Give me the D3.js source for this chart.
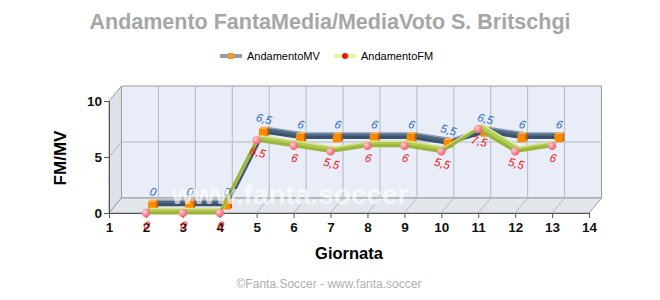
<!DOCTYPE html>
<html>
<head>
<meta charset="utf-8">
<script src="https://cdn.jsdelivr.net/npm/d3@7"></script>
<style>
  body { margin: 0; background: #fff; }
  svg text { font-family: "Liberation Sans", Arial, sans-serif; }
</style>
</head>
<body>
<div id="chart"></div>
<script>
const giornate = [2, 3, 4, 5, 6, 7, 8, 9, 10, 11, 12, 13];
const mediaVoto = [0, 0, 0, 6.5, 6, 6, 6, 6, 5.5, 6.5, 6, 6];
const fantaMedia = [0, 0, 0, 6.5, 6, 5.5, 6, 6, 5.5, 7.5, 5.5, 6];
const xTicks = [1, 2, 3, 4, 5, 6, 7, 8, 9, 10, 11, 12, 13, 14];
const yTicks = [0, 5, 10];

const W = 660, H = 300;
// depth offset of the 3d box
const DX = 12.5, DY = -15;

const svg = d3.select("#chart").append("svg")
    .attr("width", W)
    .attr("height", H);

const x = d3.scaleLinear().domain([1, 14]).range([109, 589]);
const y = d3.scaleLinear().domain([0, 10]).range([213, 101]);

// projected point at depth z (0 = front, 1 = back)
const px = (v, z) => x(v) + DX * z;
const py = (v, z) => y(v) + DY * z;

const defs = svg.append("defs");
const grad = defs.append("radialGradient").attr("id", "dot")
    .attr("cx", "35%").attr("cy", "35%").attr("r", "65%");
grad.append("stop").attr("offset", "0%").attr("stop-color", "#ffd0d0");
grad.append("stop").attr("offset", "100%").attr("stop-color", "#f06070");

// title
svg.append("text")
    .attr("x", 330).attr("y", 29)
    .attr("text-anchor", "middle")
    .style("font-size", "21.5px")
    .style("font-weight", "bold")
    .style("fill", "#a6a6a6")
    .text("Andamento FantaMedia/MediaVoto S. Britschgi");

// legend
const leg = svg.append("g");
leg.append("line").attr("x1", 220).attr("x2", 242).attr("y1", 56).attr("y2", 56)
    .attr("stroke", "#8e9eb1").attr("stroke-width", 4);
leg.append("rect").attr("x", 228).attr("y", 53).attr("width", 6).attr("height", 6)
    .attr("fill", "#ff9922");
leg.append("text").attr("x", 247).attr("y", 60).style("font-size", "11px").text("AndamentoMV");
leg.append("line").attr("x1", 334).attr("x2", 356).attr("y1", 56).attr("y2", 56)
    .attr("stroke", "#e4f4a2").attr("stroke-width", 4);
leg.append("circle").attr("cx", 345).attr("cy", 56).attr("r", 3).attr("fill", "#ee1111");
leg.append("text").attr("x", 361).attr("y", 60).style("font-size", "11px").text("AndamentoFM");

// walls
const x0 = x(1), x1 = x(14), yb = y(0), yt = y(10);
svg.append("polygon")
    .attr("points", [[x0 + DX, yt + DY], [x1 + DX, yt + DY], [x1 + DX, yb + DY], [x0 + DX, yb + DY]].join(" "))
    .attr("fill", "#e8edf7").attr("stroke", "#9a9a9a");
svg.append("polygon")
    .attr("points", [[x0, yt], [x0 + DX, yt + DY], [x0 + DX, yb + DY], [x0, yb]].join(" "))
    .attr("fill", "#dde1e8").attr("stroke", "#9a9a9a");
svg.append("polygon")
    .attr("points", [[x0, yb], [x1, yb], [x1 + DX, yb + DY], [x0 + DX, yb + DY]].join(" "))
    .attr("fill", "#e3e6ec").attr("stroke", "#9a9a9a");

// grid
const grid = svg.append("g").attr("stroke", "#b4b8c0").attr("stroke-width", 1);
xTicks.slice(1, -1).forEach(t => {
    grid.append("line").attr("x1", px(t, 1)).attr("x2", px(t, 1))
        .attr("y1", py(10, 1)).attr("y2", py(0, 1));
    grid.append("line").attr("x1", px(t, 0)).attr("x2", px(t, 1))
        .attr("y1", y(0)).attr("y2", py(0, 1));
});
yTicks.slice(1, -1).forEach(t => {
    grid.append("line").attr("x1", px(1, 0)).attr("x2", px(1, 1))
        .attr("y1", y(t)).attr("y2", py(t, 1));
    grid.append("line").attr("x1", px(1, 1)).attr("x2", px(14, 1))
        .attr("y1", py(t, 1)).attr("y2", py(t, 1));
});

// axes
const yAxis = svg.append("g")
    .attr("transform", `translate(${x0},0)`)
    .call(d3.axisLeft(y).tickValues(yTicks).tickSize(5).tickPadding(2));
const xAxis = svg.append("g")
    .attr("transform", `translate(0,${yb})`)
    .call(d3.axisBottom(x).tickValues(xTicks).tickSize(5).tickPadding(4));
[yAxis, xAxis].forEach(a => {
    a.select(".domain").attr("stroke", "#555");
    a.selectAll(".tick line").attr("stroke", "#555");
    a.selectAll(".tick text")
        .style("font-size", "13.5px")
        .style("font-weight", "bold")
        .style("font-family", "'Liberation Sans', Arial, sans-serif")
        .attr("fill", "#111");
});

// series ribbons
function ribbon(vals, z0, z1, fill, front, back) {
    const g = svg.append("g");
    for (let i = 0; i < vals.length - 1; i++) {
        const a = giornate[i], b = giornate[i + 1];
        const va = vals[i], vb = vals[i + 1];
        g.append("polygon")
            .attr("points", [[px(a, z0), py(va, z0)], [px(b, z0), py(vb, z0)],
                             [px(b, z1), py(vb, z1)], [px(a, z1), py(va, z1)]].join(" "))
            .attr("fill", fill);
    }
    const line = z => d3.line().x(d => px(d[0], z)).y(d => py(d[1], z));
    const pts = giornate.map((g0, i) => [g0, vals[i]]);
    g.append("path").attr("d", line(z1)(pts)).attr("fill", "none")
        .attr("stroke", back).attr("stroke-width", 1.5);
    g.append("path").attr("d", line(z0)(pts)).attr("fill", "none")
        .attr("stroke", front).attr("stroke-width", 3).attr("stroke-linejoin", "round");
    return g;
}

const fmt = v => String(v).replace(".", ",");

// MV (back row)
ribbon(mediaVoto, 0.55, 0.85, "#4d6783", "#3b526c", "#8a9bb0");
const mv = svg.append("g");
giornate.forEach((g0, i) => {
    const cx = px(g0, 0.5), cy = py(mediaVoto[i], 0.5);
    mv.append("polygon")
        .attr("points", [[cx + 4, cy - 4], [cx + 6, cy - 6], [cx + 6, cy + 2], [cx + 4, cy + 4]].join(" "))
        .attr("fill", "#c86400");
    mv.append("polygon")
        .attr("points", [[cx - 4, cy - 4], [cx - 2, cy - 6], [cx + 6, cy - 6], [cx + 4, cy - 4]].join(" "))
        .attr("fill", "#ffb050");
    mv.append("rect").attr("x", cx - 4).attr("y", cy - 4).attr("width", 8).attr("height", 8)
        .attr("fill", "#ff8a00");
});

// FM (front row)
ribbon(fantaMedia, 0, 0.3, "#b3cb52", "#9cb43a", "#d6e69a");
const fm = svg.append("g");
giornate.forEach((g0, i) => {
    fm.append("circle").attr("cx", px(g0, 0)).attr("cy", py(fantaMedia[i], 0))
        .attr("r", 4.2).attr("fill", "url(#dot)");
});

// value labels
giornate.forEach((g0, i) => {
    const lx = px(g0, 0.5), ly = py(mediaVoto[i], 0.5) - 10;
    svg.append("text")
        .attr("transform", `translate(${lx},${ly}) rotate(15)`)
        .attr("text-anchor", "middle")
        .style("font-size", "11.5px")
        .style("font-style", "italic")
        .style("fill", "#2f6fc4")
        .text(fmt(mediaVoto[i]));
    const fx = px(g0, 0), fy = py(fantaMedia[i], 0) + 16;
    svg.append("text")
        .attr("transform", `translate(${fx},${fy}) rotate(15)`)
        .attr("text-anchor", "middle")
        .style("font-size", "11.5px")
        .style("font-style", "italic")
        .style("fill", "#f01818")
        .text(fmt(fantaMedia[i]));
});

// watermark
svg.append("text")
    .attr("x", 290).attr("y", 204)
    .attr("text-anchor", "middle")
    .style("font-size", "28px")
    .style("font-weight", "bold")
    .style("fill", "#fff")
    .style("fill-opacity", 0.65)
    .text("www.fanta.soccer");

// axis titles
svg.append("text")
    .attr("transform", "translate(66,158) rotate(-90)")
    .attr("text-anchor", "middle")
    .style("font-size", "17px")
    .style("font-weight", "bold")
    .text("FM/MV");
svg.append("text")
    .attr("x", 349).attr("y", 259)
    .attr("text-anchor", "middle")
    .style("font-size", "16.5px")
    .style("font-weight", "bold")
    .text("Giornata");

svg.append("text")
    .attr("x", 329).attr("y", 288)
    .attr("text-anchor", "middle")
    .style("font-size", "12px")
    .style("fill", "#b0b0b0")
    .text("©Fanta.Soccer - www.fanta.soccer");
</script>
</body>
</html>
